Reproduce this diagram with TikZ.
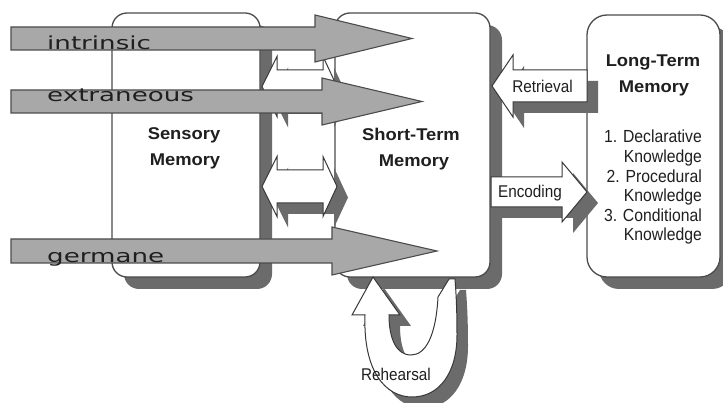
\documentclass[tikz,border=0pt]{standalone}
\usepackage{fontspec}
\setmainfont{Liberation Sans}
\newfontfamily\titlefont[FakeStretch=1.08]{Liberation Sans}
\newfontfamily\narrowfont[FakeStretch=0.9]{Liberation Sans}
\newfontfamily\loadfont[FakeStretch=1.45]{DejaVu Sans}
\usetikzlibrary{shadows}

\definecolor{shadowgray}{gray}{0.42}
\definecolor{loadgray}{gray}{0.66}
\definecolor{edgegray}{gray}{0.3}
\definecolor{inkcol}{gray}{0.12}

% horizontal block arrow: style, x shaft start, x head back, x tip, y centre, half shaft, half head
\newcommand\harrow[7]{%
  \path[#1] (#2,#5-#6) -- (#3,#5-#6) -- (#3,#5-#7) -- (#4,#5)
    -- (#3,#5+#7) -- (#3,#5+#6) -- (#2,#5+#6) -- cycle;}
% two-headed block arrow: style, left tip, left head back, right head back, right tip, y centre, half shaft, half head
\newcommand\dblarrow[8]{%
  \path[#1] (#2,#6) -- (#3,#6-#8) -- (#3,#6-#7) -- (#4,#6-#7) -- (#4,#6-#8)
    -- (#5,#6) -- (#4,#6+#8) -- (#4,#6+#7) -- (#3,#6+#7) -- (#3,#6+#8) -- cycle;}

\tikzset{
  boxshadow/.style={drop shadow={shadow xshift=12pt, shadow yshift=-12pt,
      fill=shadowgray, opacity=1}},
  membox/.style={rectangle, draw=edgegray, line width=1.3pt, fill=white,
      rounded corners=#1, boxshadow, inner sep=0pt},
  flowshadow/.style={drop shadow={shadow xshift=11pt, shadow yshift=-11pt,
      fill=shadowgray, opacity=1}},
  flowarrow/.style={fill=white, draw=black!78, line width=1pt, flowshadow},
  loadarrow/.style={fill=loadgray, draw=edgegray, line width=1.1pt},
  boxtitle/.style={font=\titlefont\bfseries\fontsize{17}{17}\selectfont,
      text=inkcol, inner sep=0pt, anchor=base},
  listline/.style={font=\narrowfont\fontsize{17.5}{17.5}\selectfont,
      text=inkcol, inner sep=0pt, anchor=base east},
  flowlabel/.style={font=\narrowfont\fontsize{17}{17}\selectfont,
      text=inkcol, inner sep=0pt, anchor=base},
  loadlabel/.style={font=\loadfont\fontsize{18}{18}\selectfont,
      text=inkcol, inner sep=0pt, anchor=base west},
}

\begin{document}
\begin{tikzpicture}[x=1pt, y=-1pt]
\useasboundingbox (0,0) rectangle (723,403);
\fill[white] (0,0) rectangle (723,403);

% the three memory stores
\node[membox=15pt, minimum width=148pt, minimum height=264pt] (sensory) at (186,145) {};
\node[membox=15pt, minimum width=155pt, minimum height=264pt] (stm) at (412.5,145) {};
\node[membox=20pt, minimum width=133pt, minimum height=262pt] (ltm) at (653.5,146) {};

\node[boxtitle] (sens1) at (184,140) {Sensory};
\node[boxtitle] (sens2) at (185,166) {Memory};
\node[boxtitle] (stm1) at (411,141) {Short-Term};
\node[boxtitle] (stm2) at (414,167) {Memory};
\node[boxtitle] (ltm1) at (653,67) {Long-Term};
\node[boxtitle] (ltm2) at (654,93) {Memory};

\node[listline] (k1) at (702,143) {1. Declarative};
\node[listline] (k2) at (702,163) {Knowledge};
\node[listline] (k3) at (702,183) {2. Procedural};
\node[listline] (k4) at (702,202) {Knowledge};
\node[listline] (k5) at (702,222) {3. Conditional};
\node[listline] (k6) at (702,241) {Knowledge};

% two-way transfer between sensory and short-term memory
\dblarrow{flowarrow}{262}{277}{323}{337}{86.5}{16.5}{30}
\dblarrow{flowarrow}{262}{277}{323}{337}{186.5}{16.5}{30}

% retrieval and encoding
\harrow{flowarrow}{587}{513}{492}{86}{16}{31}
\node[flowlabel] (retrieval) at (542.5,93) {Retrieval};
\harrow{flowarrow}{491}{562}{587}{192}{15}{30}
\node[flowlabel] (encoding) at (530,198) {Encoding};

% rehearsal loop under short-term memory
\path[flowarrow] (373,277) -- (352,315) -- (365,315)
  .. controls (363,372) and (386,397) .. (412,397)
  .. controls (440,397) and (457,372) .. (457,335)
  .. controls (457,308) and (456,292) .. (455,279)
  -- (449,279) -- (438,297)
  .. controls (436,335) and (426,355) .. (411,355)
  .. controls (396,355) and (389,338) .. (389,315)
  -- (400,315) -- cycle;
\node[flowlabel] (rehearsal) at (396,380) {Rehearsal};

% cognitive load arrows
\harrow{loadarrow}{11}{315}{412}{38.5}{11.5}{23.5}
\node[loadlabel] (intrinsic) at (47,50) {intrinsic};
\harrow{loadarrow}{11}{322}{422}{101.5}{11.5}{23.5}
\node[loadlabel] (extraneous) at (47,102) {extraneous};
\harrow{loadarrow}{11}{332}{437}{251}{12}{24}
\node[loadlabel] (germane) at (47,263) {germane};
\end{tikzpicture}
\end{document}
